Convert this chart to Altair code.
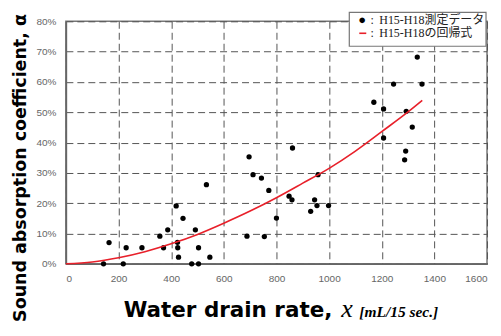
import altair as alt
import pandas as pd

# measured data (water drain rate in mL/15 sec, absorption coefficient in %)
drain = [143, 164, 218, 229, 289, 357, 371, 387, 419, 424, 425, 428, 445, 478,
         492, 504, 504, 534, 547, 688, 696, 711, 743, 754, 771, 800, 848, 859,
         861, 930, 945, 954, 958, 998, 1170, 1207, 1207, 1245, 1287, 1291, 1293,
         1316, 1335, 1353]
alpha = [0, 7.0, 0, 5.3, 5.3, 9.1, 5.3, 11.2, 19.1, 7.1, 5.3, 2.2, 15.0, 0,
         11.2, 5.3, 0, 26.1, 2.2, 9.1, 35.3, 29.4, 28.3, 9.0, 24.2, 15.1, 22.3, 21.1,
         38.2, 17.3, 21.1, 19.2, 29.4, 19.2, 53.3, 51.1, 41.5, 59.3, 34.3, 37.2, 50.3,
         45.1, 68.2, 59.3]

# regression curve
fit_x = [0, 100, 200, 300, 400, 500, 600, 700, 800, 900, 1000, 1100, 1200, 1300, 1354]
fit_y = [0, 0.6, 2.0, 4.0, 6.6, 9.7, 13.4, 17.4, 21.8, 26.6, 31.5, 37.2, 43.6, 50.1, 53.9]

x_ticks = [0, 200, 400, 600, 800, 1000, 1200, 1400, 1600]
y_ticks = [0, 10, 20, 30, 40, 50, 60, 70, 80]

legend_labels = ["H15-H18測定データ", "H15-H18の回帰式"]

pts = pd.DataFrame({"x": drain, "y": alpha})
fit = pd.DataFrame({"x": fit_x, "y": fit_y})

xs = alt.Scale(domain=[0, 1600], nice=False)
ys = alt.Scale(domain=[0, 80], nice=False)


def xax():
    return alt.Axis(values=x_ticks, title=None, ticks=False, labelPadding=10,
                    labelFlush=True, format="d", labelOverlap=False)


def yax():
    return alt.Axis(values=y_ticks, title=None, ticks=False, labelPadding=10,
                    labelExpr="datum.value + '%'", labelOverlap=False)


points = alt.Chart(pts).mark_circle(size=28, color="black", opacity=1).encode(
    x=alt.X("x:Q", scale=xs, axis=xax()),
    y=alt.Y("y:Q", scale=ys, axis=yax()),
)

line = alt.Chart(fit).mark_line(color="#e8202a", strokeWidth=1.6,
                                interpolate="monotone").encode(
    x=alt.X("x:Q", scale=xs, axis=xax()),
    y=alt.Y("y:Q", scale=ys, axis=yax()),
)

one = alt.Data(values=[{}])


def txt(s, x, y, **kw):
    return alt.Chart(one).mark_text(**kw).encode(
        x=alt.value(x), y=alt.value(y), text=alt.value(s))


legend_box = alt.Chart(one).mark_rect(fill="white", stroke="#777777",
                                      strokeWidth=1.2).encode(
    x=alt.value(284), x2=alt.value(421), y=alt.value(-9), y2=alt.value(25))

legend_dash = alt.Chart(one).mark_rule(color="#e8202a", strokeWidth=1.6).encode(
    x=alt.value(294), x2=alt.value(301), y=alt.value(12))

serif = "Liberation Serif, Noto Sans CJK JP"
leg = [
    txt("●", 297, -1, fontSize=13, color="black", align="center", baseline="middle"),
    txt(":", 307, -1, fontSize=12, color="#222", font=serif, align="center", baseline="middle"),
    txt(legend_labels[0], 314, -1, fontSize=12, color="#222", font=serif,
        align="left", baseline="middle"),
    txt(":", 307, 12, fontSize=12, color="#222", font=serif, align="center", baseline="middle"),
    txt(legend_labels[1], 314, 12, fontSize=12, color="#222", font=serif,
        align="left", baseline="middle"),
]

ytitle = txt("Sound absorption coefficient, α", -45, 147, angle=270, fontSize=17.5,
             fontWeight="bold", font="DejaVu Sans", color="black",
             align="center", baseline="middle")
xtitle1 = txt("Water drain rate,", 267, 296, fontSize=21.5, fontWeight="bold",
              font="DejaVu Sans", color="black", align="right", baseline="alphabetic")
xtitle2 = txt("x", 276, 296, fontSize=26, fontStyle="italic", font="Liberation Serif",
              color="black", align="left", baseline="alphabetic")
xtitle3 = txt("[mL/15 sec.]", 294, 296, fontSize=15.5, fontStyle="italic", fontWeight="bold",
              font="Liberation Serif", color="black", align="left", baseline="alphabetic")

chart = alt.layer(points, line, legend_box, legend_dash, *leg, ytitle,
                  xtitle1, xtitle2, xtitle3).properties(
    width=422, height=243,
    autosize=alt.AutoSizeParams(type="none"),
    padding={"left": 58, "top": 13, "right": 6, "bottom": 64},
).configure_view(
    stroke="#777777", strokeWidth=1.5
).configure_axis(
    domainColor="#666666", domainWidth=1.6,
    gridColor="#555555", gridDash=[7, 4], gridWidth=1,
    labelColor="#666666", labelFont="Liberation Sans", labelFontSize=10,
)

chart.save("out.html", embed_options={"renderer": "svg", "actions": False})
